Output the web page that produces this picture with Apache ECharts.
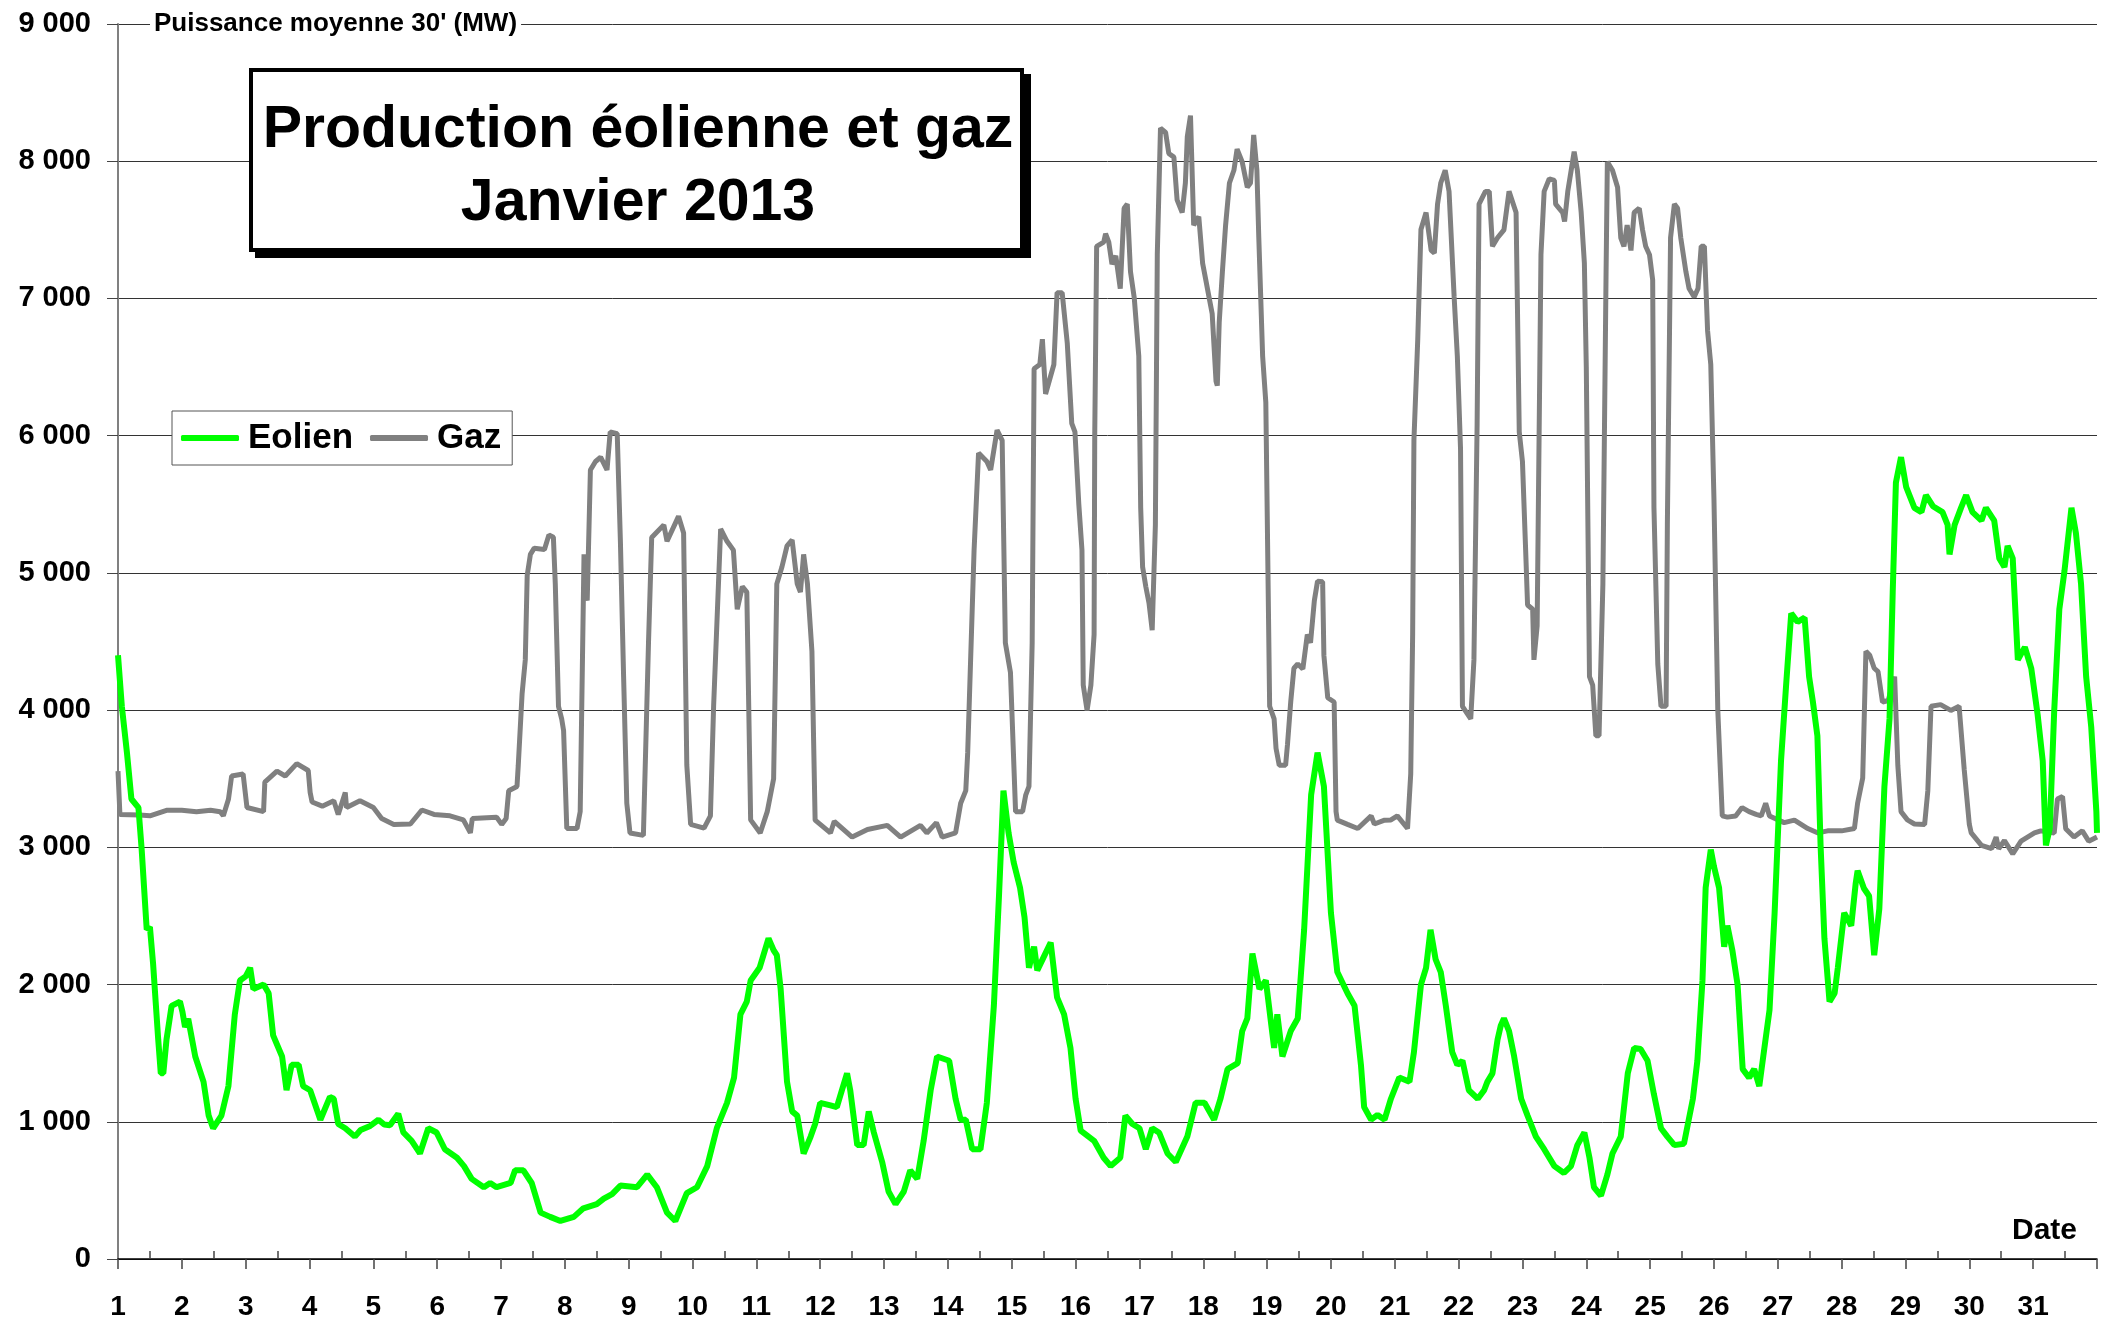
<!DOCTYPE html>
<html>
<head>
<meta charset="utf-8">
<script src="https://cdn.jsdelivr.net/npm/echarts@6/dist/echarts.min.js"></script>
<style>
html,body{margin:0;padding:0;background:#fff;}
#container{width:2114px;height:1325px;}
</style>
</head>
<body>
<div id="container"></div>
<script>
// jours (1 = 1er janvier 0h, 32 = 1er fevrier 0h) et puissances en MW
var gazJours=[1.00,1.03,1.34,1.50,1.76,2.00,2.23,2.45,2.60,2.65,2.73,2.78,2.96,3.02,3.28,3.30,3.49,3.62,3.80,3.98,
4.01,4.04,4.20,4.38,4.45,4.56,4.58,4.79,5.00,5.13,5.32,5.58,5.76,5.95,6.20,6.41,6.52,6.55,6.93,7.01,
7.08,7.12,7.25,7.27,7.33,7.38,7.41,7.46,7.52,7.68,7.75,7.82,7.85,7.90,7.95,7.98,8.03,8.19,8.24,8.30,
8.35,8.40,8.48,8.56,8.66,8.71,8.82,8.87,8.92,8.97,9.02,9.23,9.31,9.36,9.55,9.60,9.78,9.86,9.91,9.97,
10.18,10.28,10.33,10.44,10.54,10.64,10.70,10.78,10.85,10.91,11.06,11.17,11.27,11.32,11.40,11.48,11.56,11.64,11.69,11.74,
11.80,11.87,11.92,12.00,12.16,12.22,12.50,12.74,13.05,13.26,13.57,13.67,13.82,13.91,14.12,14.20,14.28,14.31,14.41,14.48,
14.61,14.67,14.77,14.85,14.90,14.98,15.06,15.17,15.22,15.27,15.32,15.35,15.44,15.48,15.53,15.66,15.71,15.79,15.87,15.94,
15.99,16.05,16.10,16.12,16.18,16.24,16.29,16.30,16.33,16.44,16.47,16.52,16.57,16.63,16.70,16.76,16.81,16.86,16.92,16.99,
17.02,17.05,17.10,17.15,17.20,17.25,17.28,17.33,17.41,17.46,17.54,17.59,17.67,17.72,17.75,17.80,17.85,17.93,17.99,18.04,
18.09,18.14,18.20,18.22,18.25,18.30,18.35,18.41,18.48,18.53,18.61,18.69,18.74,18.79,18.84,18.87,18.93,18.98,19.04,19.11,
19.14,19.19,19.29,19.32,19.37,19.42,19.48,19.56,19.63,19.68,19.74,19.79,19.87,19.89,19.95,20.05,20.08,20.10,20.26,20.42,
20.63,20.68,20.84,20.94,21.04,21.20,21.25,21.28,21.30,21.36,21.41,21.49,21.57,21.62,21.67,21.72,21.79,21.85,21.93,21.98,
22.03,22.06,22.19,22.24,22.29,22.32,22.42,22.48,22.53,22.61,22.71,22.79,22.90,22.95,23.00,23.05,23.08,23.16,23.18,23.23,
23.29,23.34,23.42,23.50,23.52,23.63,23.66,23.71,23.81,23.86,23.92,23.97,24.00,24.05,24.10,24.15,24.20,24.26,24.31,24.33,
24.41,24.49,24.54,24.59,24.64,24.70,24.75,24.83,24.88,24.93,24.99,25.04,25.06,25.12,25.17,25.25,25.27,25.32,25.38,25.43,
25.48,25.56,25.61,25.69,25.75,25.80,25.85,25.90,25.95,26.00,26.06,26.13,26.21,26.34,26.44,26.55,26.66,26.74,26.81,26.87,
27.10,27.26,27.47,27.63,27.78,28.00,28.20,28.25,28.33,28.38,28.44,28.51,28.57,28.64,28.73,28.83,28.88,28.93,29.03,29.14,
29.30,29.35,29.40,29.55,29.71,29.84,29.92,30.00,30.03,30.19,30.35,30.42,30.46,30.55,30.68,30.81,31.02,31.12,31.33,31.38,
31.46,31.51,31.64,31.77,31.87,32.00];
var gazMW=[3555,3240,3235,3230,3270,3270,3260,3270,3260,3230,3350,3520,3535,3290,3260,3475,3555,3520,3610,3560,
3400,3330,3300,3340,3240,3400,3290,3340,3290,3210,3167,3170,3272,3240,3230,3200,3105,3210,3220,3167,
3210,3413,3444,3598,4120,4366,4982,5135,5180,5170,5277,5260,4920,4028,3936,3850,3137,3137,3260,5135,
4797,5750,5812,5843,5750,6027,6015,5228,4244,3321,3105,3087,4490,5258,5350,5230,5412,5290,3600,3167,
3140,3229,4028,5320,5230,5166,4735,4900,4860,3200,3105,3260,3500,4920,5043,5197,5240,4920,4860,5135,
4920,4428,3198,3167,3105,3190,3075,3130,3160,3075,3160,3105,3180,3075,3105,3321,3413,3690,5166,5873,
5812,5750,6040,5966,4490,4274,3260,3260,3383,3444,4490,6488,6519,6703,6304,6519,7042,7042,6673,6089,
6027,5504,5166,4182,3998,4182,4551,6000,7380,7410,7472,7410,7250,7310,7072,7657,7688,7196,7000,6580,
5474,5043,4900,4780,4582,5350,7319,8241,8210,8057,8030,7718,7626,7841,8180,8333,7534,7596,7257,7134,
7011,6888,6396,6365,6826,7196,7534,7841,7934,8088,7995,7811,7841,8192,7934,7442,6580,6242,4028,3936,
3721,3598,3598,3752,4059,4305,4336,4300,4551,4490,4797,4939,4935,4397,4090,4059,3260,3198,3167,3137,
3229,3170,3198,3200,3229,3137,3536,4551,5966,6703,7503,7626,7350,7331,7688,7841,7934,7780,7011,6580,
5904,4028,3936,4366,6089,7688,7780,7780,7380,7442,7500,7780,7626,6027,5812,5166,4766,4735,4366,4612,
7319,7780,7872,7860,7688,7626,7560,7780,8069,7934,7626,7257,6500,4244,4182,3813,3813,4920,7196,7995,
7934,7811,7442,7380,7534,7350,7626,7657,7503,7380,7319,7134,5474,4336,4028,4028,5350,7442,7688,7657,
7442,7196,7072,7011,7072,7380,7380,6765,6519,5535,3998,3229,3220,3229,3290,3260,3240,3229,3321,3229,
3180,3198,3137,3105,3120,3120,3137,3321,3506,4428,4400,4305,4280,4059,4070,4244,3598,3260,3200,3170,
3167,3413,4028,4040,3998,4028,3567,3167,3105,3014,2990,3075,2990,3050,2952,3045,3105,3120,3105,3352,
3370,3136,3075,3120,3045,3075];

var eolJours=[1.00,1.06,1.14,1.21,1.32,1.37,1.45,1.50,1.55,1.63,1.67,1.71,1.76,1.84,1.97,2.01,2.05,2.10,2.21,2.34,
2.42,2.49,2.62,2.73,2.83,2.91,3.00,3.07,3.12,3.28,3.36,3.43,3.57,3.64,3.72,3.83,3.90,4.01,4.17,4.32,
4.38,4.45,4.56,4.71,4.80,4.95,5.08,5.17,5.26,5.39,5.47,5.60,5.73,5.86,5.99,6.12,6.31,6.42,6.54,6.73,
6.83,6.93,7.15,7.22,7.35,7.48,7.62,7.77,7.93,8.14,8.29,8.50,8.61,8.74,8.87,9.13,9.29,9.44,9.60,9.73,
9.91,10.07,10.23,10.38,10.54,10.65,10.75,10.85,10.91,11.05,11.19,11.27,11.32,11.38,11.48,11.56,11.64,11.74,11.85,11.92,
12.00,12.16,12.26,12.34,12.42,12.47,12.58,12.68,12.76,12.84,12.97,13.07,13.18,13.31,13.41,13.52,13.62,13.73,13.83,14.02,
14.12,14.20,14.28,14.38,14.51,14.61,14.72,14.80,14.87,14.95,15.03,15.13,15.20,15.27,15.35,15.40,15.50,15.61,15.71,15.82,
15.92,16.00,16.08,16.29,16.44,16.55,16.70,16.78,16.89,17.00,17.10,17.20,17.31,17.44,17.57,17.75,17.88,18.02,18.17,18.27,
18.38,18.54,18.61,18.69,18.77,18.88,18.98,19.11,19.16,19.24,19.37,19.48,19.58,19.69,19.79,19.89,20.00,20.10,20.26,20.37,
20.47,20.52,20.63,20.73,20.84,20.94,21.07,21.23,21.30,21.41,21.49,21.56,21.64,21.72,21.80,21.90,21.98,22.06,22.16,22.30,
22.40,22.45,22.53,22.61,22.66,22.71,22.79,22.87,22.98,23.08,23.21,23.34,23.50,23.65,23.76,23.86,23.97,24.05,24.12,24.23,
24.33,24.41,24.54,24.65,24.75,24.85,24.96,25.06,25.17,25.27,25.38,25.53,25.67,25.74,25.82,25.87,25.95,26.00,26.08,26.16,
26.21,26.29,26.37,26.45,26.55,26.63,26.71,26.79,26.87,26.95,27.05,27.13,27.21,27.31,27.42,27.49,27.55,27.62,27.67,27.73,
27.81,27.89,27.94,28.04,28.15,28.22,28.25,28.35,28.43,28.51,28.59,28.67,28.75,28.80,28.85,28.93,29.01,29.14,29.25,29.32,
29.43,29.58,29.66,29.69,29.77,29.87,29.95,30.05,30.19,30.26,30.39,30.47,30.55,30.60,30.68,30.76,30.87,30.97,31.07,31.15,
31.20,31.26,31.33,31.41,31.49,31.60,31.67,31.75,31.83,31.91,31.99,32.00];
var eolMW=[4400,4028,3690,3352,3290,2990,2400,2420,2150,1599,1353,1353,1600,1845,1876,1800,1690,1750,1476,1291,
1045,953,1045,1260,1783,2030,2060,2122,1968,2000,1937,1630,1476,1230,1415,1415,1260,1230,1015,1181,
1168,984,953,892,940,970,1015,980,975,1058,922,861,769,953,922,800,738,677,584,523,
554,523,554,646,646,554,338,307,277,307,369,400,440,473,535,523,615,523,338,277,
480,523,677,953,1138,1322,1783,1876,2030,2122,2337,2250,2214,1968,1291,1076,1045,769,892,984,
1138,1120,1107,1230,1353,1230,830,830,1076,922,707,492,400,492,646,584,861,1230,1476,1445,
1168,1015,1015,800,800,1138,1845,2645,3413,3106,2891,2706,2491,2122,2276,2103,2200,2306,1907,1783,
1538,1168,935,861,738,677,738,1045,984,953,800,953,920,769,707,892,1138,1138,1015,1168,
1384,1427,1661,1753,2226,1968,2030,1538,1783,1476,1661,1753,2399,3383,3690,3444,2522,2091,1937,1845,
1415,1107,1015,1050,1015,1168,1322,1291,1507,1999,2122,2399,2183,2091,1845,1507,1415,1445,1230,1168,
1230,1291,1353,1599,1700,1753,1661,1476,1168,1045,892,800,677,627,677,830,922,738,523,461,
615,769,892,1353,1538,1530,1445,1199,953,892,830,840,1168,1445,2030,2706,2983,2860,2706,2276,
2429,2245,1999,1384,1322,1384,1260,1538,1814,2522,3629,4182,4705,4643,4674,4244,4059,3813,3014,2337,
1876,1937,2122,2522,2429,2737,2829,2700,2645,2214,2552,3444,3936,4859,5658,5843,5627,5474,5443,5566,
5486,5443,5350,5135,5350,5474,5566,5443,5381,5474,5381,5105,5043,5197,5105,4367,4459,4305,3967,3629,
3014,3137,3998,4736,5012,5474,5289,4920,4244,3875,3260,3106];

var demiJours=[];
for(var i=1;i<32;i++){ demiJours.push(i+0.5); }

var zip=function(xs,ys){
    var out=[];
    for(var i=0;i<xs.length;i++){ out.push([xs[i],ys[i]]); }
    return out;
};

var police="'Liberation Sans', Arial, sans-serif";
var dom=document.querySelector("#container");
var myChart=echarts.init(dom);

var option={
    animation:false,
    backgroundColor:'#fff',
    grid:{left:118,right:17,top:24,bottom:66},
    legend:{
        data:['Eolien','Gaz'],
        left:172, top:411,
        padding:[9,11,9,9],
        icon:'roundRect',
        itemWidth:58, itemHeight:6, itemGap:17,
        backgroundColor:'#fff', borderColor:'#555', borderWidth:1,
        textStyle:{fontSize:35,fontWeight:'bold',color:'#000',fontFamily:police,lineHeight:36,padding:[0,0,0,4]}
    },
    xAxis:[{
        type:'value', position:'bottom',
        min:1, max:32, interval:1,
        axisLine:{onZero:false,lineStyle:{color:'#000',width:1.5}},
        axisTick:{inside:false,length:10,lineStyle:{color:'#444',width:1.5}},
        axisLabel:{
            margin:34, fontSize:28, fontWeight:'bold', color:'#000', fontFamily:police,
            formatter:function(v){ return v>=32 ? '' : String(v); }
        },
        splitLine:{show:false}
    },{
        type:'value', position:'bottom',
        min:1, max:32, interval:1,
        axisLine:{show:false},
        axisTick:{inside:true,length:8,customValues:demiJours,lineStyle:{color:'#444',width:1.5}},
        axisLabel:{show:false},
        splitLine:{show:false}
    }],
    yAxis:{
        type:'value', min:0, max:9000, interval:1000,
        axisLine:{show:true,lineStyle:{color:'#808080',width:2}},
        axisTick:{show:true,length:11,lineStyle:{color:'#444'}},
        axisLabel:{
            margin:27, fontSize:29, fontWeight:'bold', color:'#000', fontFamily:police,
            formatter:function(v){ return v===0 ? '0' : String(v).replace(/(\d)(?=(\d{3})+$)/g,'$1 '); }
        },
        splitLine:{lineStyle:{color:'#333',width:1}}
    },
    graphic:[
        {type:'text', x:150, y:24, z:100,
         style:{text:"Puissance moyenne 30' (MW)", font:"bold 26px "+police, fill:'#000',
                verticalAlign:'middle', backgroundColor:'#fff', padding:[2,4]}},
        {type:'rect', z:100, shape:{x:255,y:74,width:776,height:184}, style:{fill:'#000'}},
        {type:'rect', z:101, shape:{x:251,y:70,width:771,height:180}, style:{fill:'#fff',stroke:'#000',lineWidth:4}},
        {type:'text', x:638, y:131, z:102,
         style:{text:'Production éolienne et gaz', font:"bold 59px "+police, fill:'#000', align:'center', verticalAlign:'middle'}},
        {type:'text', x:638, y:204, z:102,
         style:{text:'Janvier 2013', font:"bold 59px "+police, fill:'#000', align:'center', verticalAlign:'middle'}},
        {type:'text', x:2012, y:1231, z:100,
         style:{text:'Date', font:"bold 30px "+police, fill:'#000', verticalAlign:'middle'}}
    ],
    series:[{
        name:'Gaz', type:'line', symbol:'none',
        data:zip(gazJours,gazMW),
        lineStyle:{color:'#808080',width:5},
        itemStyle:{color:'#808080'}
    },{
        name:'Eolien', type:'line', symbol:'none',
        data:zip(eolJours,eolMW),
        lineStyle:{color:'#00ff00',width:6},
        itemStyle:{color:'#00ff00'}
    }]
};

myChart.setOption(option);
</script>
</body>
</html>
